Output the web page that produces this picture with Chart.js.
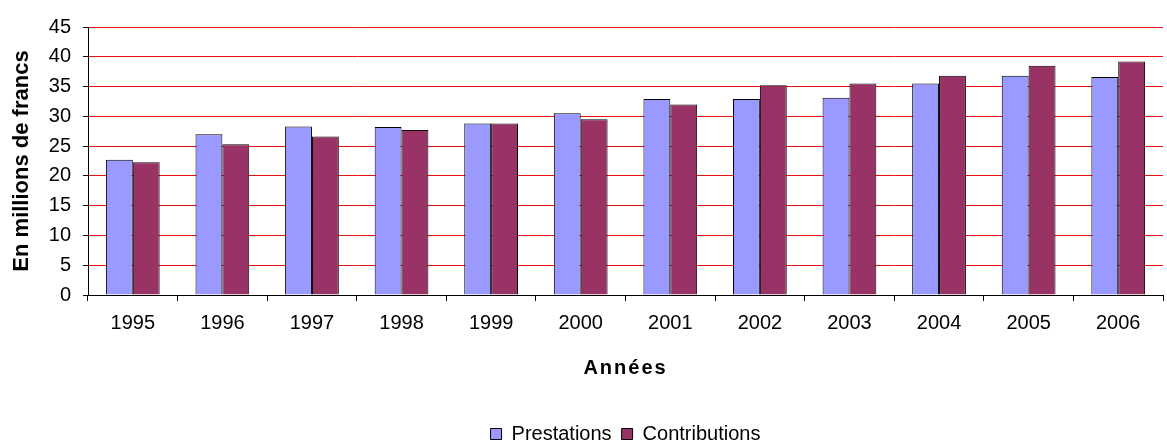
<!DOCTYPE html>
<html>
<head>
<meta charset="utf-8">
<script src="https://cdn.jsdelivr.net/npm/chart.js@4"></script>
<style>
  html, body { margin: 0; padding: 0; background: #fff; }
  #wrap { width: 1167px; height: 440px; }
</style>
</head>
<body>
<div id="wrap"><canvas id="c" width="1167" height="440"></canvas></div>
<script>
const years = ['1995','1996','1997','1998','1999','2000','2001','2002','2003','2004','2005','2006'];
const prestations = [22.7, 27.0, 28.3, 28.2, 28.8, 30.5, 32.9, 32.9, 33.1, 35.5, 36.8, 36.6];
const contributions = [22.3, 25.3, 26.6, 27.7, 28.8, 29.5, 32.0, 35.2, 35.5, 36.8, 38.5, 39.2];
const yTicks = [0, 5, 10, 15, 20, 25, 30, 35, 40, 45];

const FONT = '"Liberation Sans", Arial, sans-serif';

// Spread the letters of the x-axis title a little
function spacedTitle(scale) {
  if (scale._spaced) return;
  scale._spaced = true;
  const orig = scale.drawTitle;
  scale.drawTitle = function () {
    const ctx = this.ctx;
    ctx.save();
    ctx.letterSpacing = '2px';
    orig.apply(this, arguments);
    ctx.restore();
  };
}

new Chart(document.getElementById('c'), {
  type: 'bar',
  data: {
    labels: years,
    datasets: [
      { label: 'Prestations', data: prestations, backgroundColor: '#9999FF', borderColor: '#000', borderWidth: 1 },
      { label: 'Contributions', data: contributions, backgroundColor: '#993366', borderColor: '#000', borderWidth: 1 }
    ]
  },
  options: {
    responsive: false,
    animation: false,
    devicePixelRatio: 1,
    layout: { padding: { top: 27, right: 4, left: 0, bottom: -14 } },
    datasets: { bar: { categoryPercentage: 0.6, barPercentage: 1.0 } },
    plugins: {
      tooltip: { enabled: false },
      legend: {
        position: 'bottom',
        fullSize: false,
        labels: {
          font: { family: FONT, size: 20 },
          color: '#000',
          boxWidth: 11,
          boxHeight: 11,
          padding: 10,
          useBorderRadius: false
        }
      }
    },
    scales: {
      x: {
        grid: { display: true, drawOnChartArea: false, drawTicks: true, tickLength: 6, tickColor: '#000', offset: true },
        border: { color: '#000', width: 1 },
        ticks: { font: { family: FONT, size: 20 }, color: '#000', padding: 10 },
        title: { display: true, text: 'Années', font: { family: FONT, size: 20, weight: 'bold' }, color: '#000', padding: { top: 0, bottom: 34 } },
        afterFit: (s) => { s.height = 119; spacedTitle(s); }
      },
      y: {
        min: 0,
        max: 45,
        afterBuildTicks: (s) => { s.ticks = yTicks.map(v => ({ value: v })); },
        grid: { color: '#ee1111', lineWidth: 1, tickColor: '#000', tickLength: 5 },
        border: { color: '#000', width: 1 },
        ticks: { font: { family: FONT, size: 20 }, color: '#000', padding: 12 },
        title: { display: true, text: 'En millions de francs', font: { family: FONT, size: 22, weight: 'bold' }, color: '#000', padding: { top: 9, bottom: 0 } },
        afterFit: (s) => { s.width = 88; }
      }
    }
  }
});
</script>
</body>
</html>
